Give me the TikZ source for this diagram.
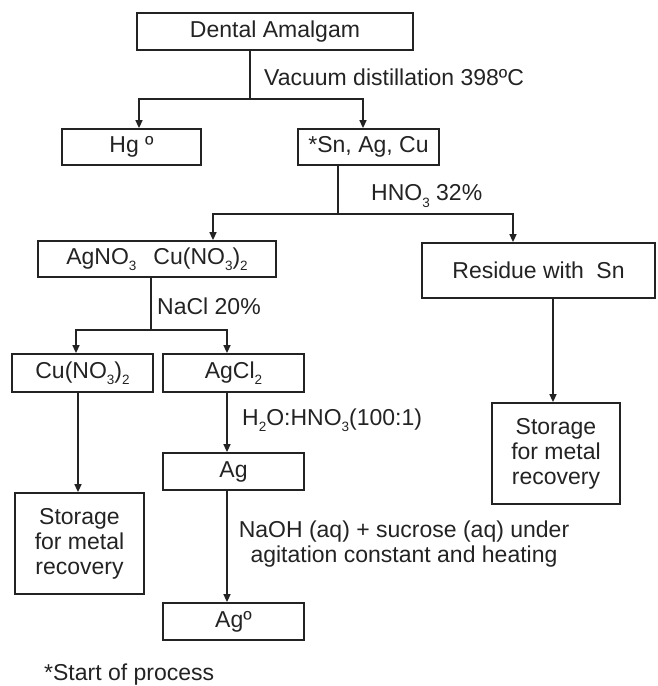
\documentclass[tikz,border=0pt]{standalone}
\usepackage{fontspec}
\setmainfont{Liberation Sans}
\usetikzlibrary{arrows.meta}
\definecolor{ink}{RGB}{35,35,35}
\newcommand{\sbs}[1]{\raisebox{-0.5ex}{\fontsize{13.5}{13.5}\selectfont #1}}
\begin{document}
\begin{tikzpicture}[x=1pt,y=-1pt,
  every node/.style={text=ink,font=\fontsize{23}{25}\selectfont},
  box/.style={draw=ink,line width=1.8pt,rectangle,inner sep=0pt},
  conn/.style={draw=ink,line width=1.5pt},
  arr/.style={conn,-{Triangle[length=8pt,width=7pt]}},
  lbl/.style={anchor=west,inner sep=0pt}]
\useasboundingbox (0,0) rectangle (657,686);
% boxes
\node[box,minimum width=276,minimum height=37] (dental) at (275,31.5) {Dental Amalgam};
\node[box,minimum width=139,minimum height=36] (hg) at (131.5,147) {Hg º};
\node[box,minimum width=141,minimum height=36] (sn) at (368.5,147) {*Sn, Ag, Cu};
\node[box,minimum width=238,minimum height=36] (agno) at (157,259) {AgNO\sbs{3}\hspace{17pt}Cu(NO\sbs{3})\sbs{2}};
\node[box,minimum width=233,minimum height=55] (res) at (538.5,270.5) {Residue with\hspace{6pt} Sn};
\node[box,minimum width=128,minimum height=101,align=center] (stor2) at (556,453.5) {Storage\\for metal\\recovery};
\node[box,minimum width=141,minimum height=38] (cu) at (82.5,373) {Cu(NO\sbs{3})\sbs{2}};
\node[box,minimum width=141,minimum height=38] (agcl) at (233.5,373) {AgCl\sbs{2}};
\node[box,minimum width=129,minimum height=101,align=center] (stor1) at (79.5,543.5) {Storage\\for metal\\recovery};
\node[box,minimum width=141,minimum height=37] (ag) at (233.5,471.5) {Ag};
\node[box,minimum width=141,minimum height=37] (ag0) at (233.5,621.5) {Agº};
% labels
\node[lbl] (l1) at (264,77) {Vacuum distillation 398ºC};
\node[lbl] (l2) at (371,196) {HNO\sbs{3} 32\%};
\node[lbl] (l3) at (157,306) {NaCl 20\%};
\node[lbl] (l4) at (242,420) {H\sbs{2}O:HNO\sbs{3}(100:1)};
\node[align=center,inner sep=0pt] (l5) at (404,544.5) {NaOH (aq) + sucrose (aq) under\\agitation constant and heating};
\node[anchor=base west,inner sep=0pt] (note) at (44,680) {*Start of process};
% connectors
\coordinate (j1) at (250,99);
\coordinate (a1) at (139,99);
\coordinate (b1) at (363,99);
\draw[conn] (dental.south -| j1) -- (j1);
\draw[arr] (j1) -- (a1) -- (a1 |- hg.north);
\draw[arr] (j1) -- (b1) -- (b1 |- sn.north);
\coordinate (j2) at (338,214);
\coordinate (a2) at (213,214);
\coordinate (b2) at (513,214);
\draw[conn] (sn.south -| j2) -- (j2);
\draw[arr] (j2) -- (a2) -- (a2 |- agno.north);
\draw[arr] (j2) -- (b2) -- (b2 |- res.north);
\coordinate (c2) at (553,298);
\draw[arr] (res.south -| c2) -- (c2 |- stor2.north);
\coordinate (j3) at (151,330);
\coordinate (a3) at (76,330);
\coordinate (b3) at (227,330);
\draw[conn] (agno.south -| j3) -- (j3);
\draw[arr] (j3) -- (a3) -- (a3 |- cu.north);
\draw[arr] (j3) -- (b3) -- (b3 |- agcl.north);
\coordinate (c3) at (78,392);
\draw[arr] (cu.south -| c3) -- (c3 |- stor1.north);
\coordinate (c4) at (227,392);
\draw[arr] (agcl.south -| c4) -- (c4 |- ag.north);
\draw[arr] (ag.south -| c4) -- (c4 |- ag0.north);
\end{tikzpicture}
\end{document}
